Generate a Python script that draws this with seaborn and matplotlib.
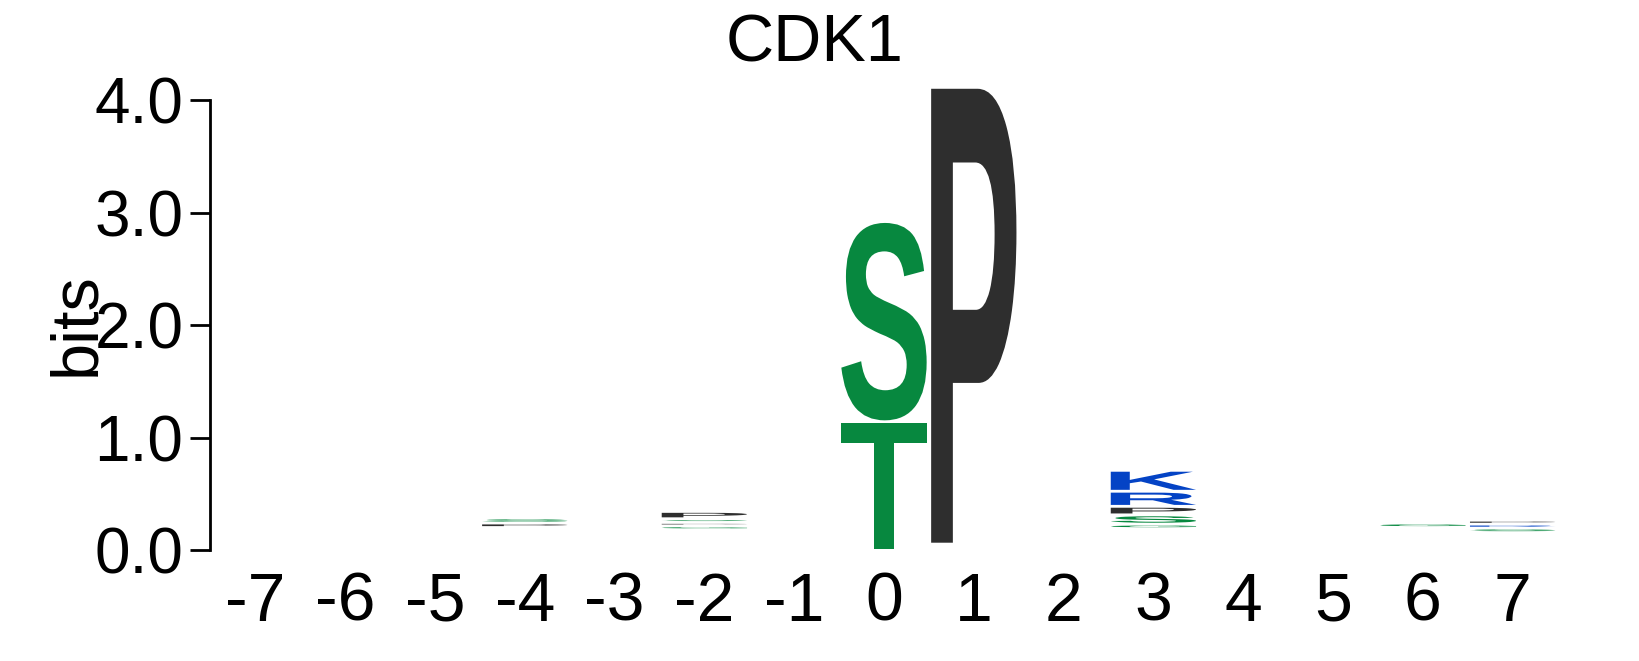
import numpy as np
import matplotlib
matplotlib.use("Agg")
import matplotlib.pyplot as plt
import seaborn as sns
from matplotlib.textpath import TextPath
from matplotlib.patches import PathPatch
from matplotlib.transforms import Affine2D
from matplotlib.font_manager import FontProperties

# Sequence logo data (bits)
positions = list(range(-7, 8))
# summed height of residues too thin to be drawn, at the bottom of each stack
other = [0.10, 0.10, 0.12, 0.20, 0.12, 0.18, 0.12, 0.0, 0.0525, 0.12, 0.19, 0.10, 0.12, 0.20, 0.155]
# visible residues per position, stacked bottom to top
letters = {
    -4: [("P", 0.04), ("S", 0.045)],
    -2: [("G", 0.035), ("P", 0.03), ("S", 0.033), ("P", 0.065)],
    0: [("T", 1.14), ("S", 1.78)],
    1: [("P", 4.06)],
    3: [("G", 0.04), ("S", 0.0825), ("P", 0.076), ("R", 0.134), ("K", 0.186)],
    6: [("G", 0.04)],
    7: [("S", 0.04), ("R", 0.035), ("P", 0.035)],
}
colors = {"S": "#07883F", "T": "#07883F", "G": "#07883F",
          "P": "#2E2E2E", "L": "#2E2E2E",
          "K": "#0443C5", "R": "#0443C5"}

sns.set_theme(style="white")
plt.rcParams["font.family"] = ["Liberation Sans", "DejaVu Sans"]
plt.rcParams["text.color"] = "black"
plt.rcParams["axes.labelcolor"] = "black"
plt.rcParams["xtick.color"] = "black"
plt.rcParams["ytick.color"] = "black"

fig = plt.figure(figsize=(16.39, 6.61), dpi=100)
ax = fig.add_axes([0.1284, 0.1679, 0.8219, 0.7063])

glyph_font = FontProperties(family="Liberation Sans", weight="bold")
width = 0.95
gap = 0.025


def draw_letter(ax, ch, x, y, h, color):
    gh = h - gap
    if gh <= 0:
        return
    tp = TextPath((0, 0), ch, size=1, prop=glyph_font)
    bb = tp.get_extents()
    t = (Affine2D().translate(-bb.x0, -bb.y0)
         .scale(width / bb.width, gh / bb.height)
         .translate(x - width / 2, y + gap / 2))
    ax.add_patch(PathPatch(t.transform_path(tp), facecolor=color,
                           edgecolor="none", lw=0))


for i, pos in enumerate(positions):
    y = other[i]
    for ch, h in letters.get(pos, []):
        draw_letter(ax, ch, pos, y, h, colors[ch])
        y += h

ax.set_xlim(-7.5, 7.5)
ax.set_ylim(0, 4.15)
ax.set_xticks(positions)
ax.set_xticklabels([str(p) for p in positions])
ax.set_yticks([0, 1, 2, 3, 4])
ax.set_yticklabels(["0.0", "1.0", "2.0", "3.0", "4.0"])
sns.despine(ax=ax, bottom=True)
ax.spines["left"].set_bounds(0, 4)
ax.spines["left"].set_linewidth(2)
ax.spines["left"].set_color("black")
ax.tick_params(axis="y", length=14.5, width=2, pad=5, labelsize=46, left=True,
               color="black", labelcolor="black")
ax.tick_params(axis="x", length=0, pad=15, labelsize=49, labelcolor="black")
ax.set_ylabel("bits", fontsize=48, color="black")
ax.yaxis.set_label_coords(-0.076, 0.484)
fig.text(0.497, 0.9077, "CDK1", ha="center", va="baseline", fontsize=48,
         color="black")

fig.savefig("out.png", dpi=100)
